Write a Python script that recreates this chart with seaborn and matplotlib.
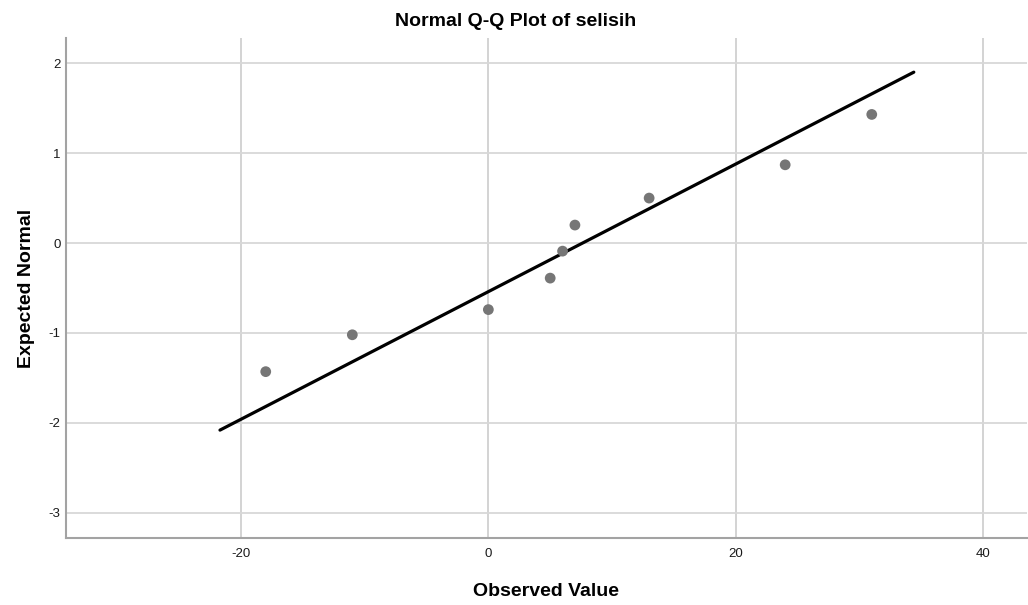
import pandas as pd
import matplotlib
matplotlib.use("Agg")
import matplotlib.pyplot as plt
import seaborn as sns

# values
observed = [-18, -11, 0, 5, 6, 7, 13, 24, 31]
expected = [-1.43, -1.02, -0.74, -0.39, -0.09, 0.20, 0.50, 0.87, 1.43]
line_x = [-21.7, 34.4]
line_y = [-2.08, 1.90]
x_ticks = [-20, 0, 20, 40]
y_ticks = [-3, -2, -1, 0, 1, 2]

points = pd.DataFrame({"observed": observed, "expected": expected})
ref_line = pd.DataFrame({"x": line_x, "y": line_y})

sns.set_theme(style="whitegrid")
plt.rcParams["font.family"] = ["Liberation Sans", "DejaVu Sans"]
plt.rcParams["axes.unicode_minus"] = False

fig = plt.figure(figsize=(10.28, 6.05), dpi=100)
ax = fig.add_axes([0.0642, 0.1107, 0.9348, 0.8265])

sns.lineplot(data=ref_line, x="x", y="y", color="black", linewidth=2.3,
             ax=ax, zorder=3)
sns.scatterplot(data=points, x="observed", y="expected", color="#767676",
                s=60, edgecolor="none", ax=ax, zorder=4)

ax.set_xlim(-34.15, 43.55)
ax.set_ylim(-3.28, 2.28)
ax.set_xticks(x_ticks)
ax.set_yticks(y_ticks)
ax.tick_params(length=0, labelsize=9.5, colors="#1a1a1a")
ax.tick_params(axis="x", pad=7)
ax.tick_params(axis="y", pad=4)

ax.grid(True, axis="y", color="#d8d8d8", linewidth=1.3)
ax.grid(True, axis="x", color="#c8c8c8", linewidth=1.1)

for side in ["top", "right"]:
    ax.spines[side].set_visible(False)
for side in ["left", "bottom"]:
    ax.spines[side].set_color("#a3a3a3")
    ax.spines[side].set_linewidth(1.5)

ax.set_xlabel("Observed Value", fontsize=14, fontweight="bold", labelpad=17,
              color="black")
ax.set_ylabel("Expected Normal", fontsize=14, fontweight="bold", labelpad=10,
              color="black")
fig.text(0.502, 1 - 22 / 605, "Normal Q-Q Plot of selisih", ha="center",
         va="center", fontsize=14, fontweight="bold", color="black")

fig.savefig("out.png", dpi=100)
